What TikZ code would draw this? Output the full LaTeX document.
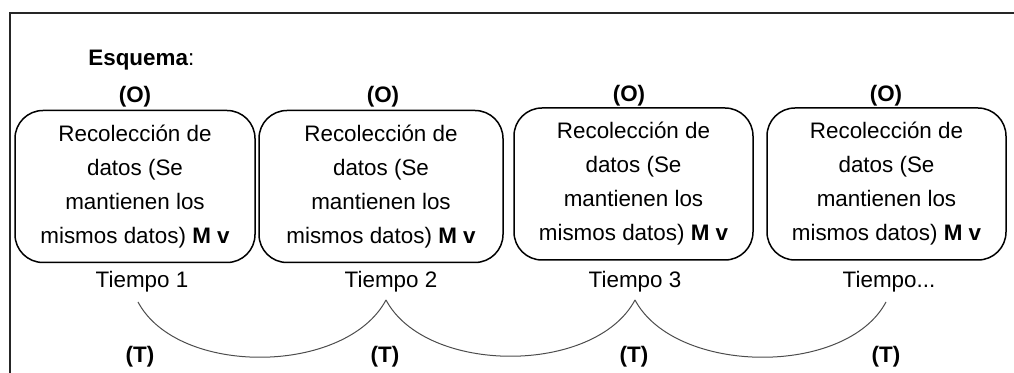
\documentclass[tikz,border=0pt]{standalone}
\usepackage{fontspec}
\setmainfont{Liberation Sans}
\usepackage{tikz}

\begin{document}
\begin{tikzpicture}[x=0.5pt,y=-0.5pt,
  txt/.style={font=\fontsize{11.2}{17}\selectfont, inner sep=0pt},
  box/.style={txt, draw, line width=0.75pt, rounded corners=14pt, align=center,
    minimum width=120pt, minimum height=76pt},
  arc/.style={draw=black!70, line width=0.5pt}]
\useasboundingbox (0,0) rectangle (1014,373);
\draw[line width=1pt, black!85] (9.5,373) -- (9.5,13) -- (1014,13);

\node[txt, anchor=west] (esq) at (88,60) {\textbf{Esquema}:};

\node[txt] (o1) at (135,97) {\textbf{(O)}};
\node[txt] (o2) at (383,97) {\textbf{(O)}};
\node[txt] (o3) at (629,96) {\textbf{(O)}};
\node[txt] (o4) at (886,96) {\textbf{(O)}};

\node[box, minimum width=120pt] (b1) at (135,186.5) {Recolección de\\datos (Se\\mantienen los\\mismos datos) \textbf{M v}};
\node[box, minimum width=122pt] (b2) at (381,186.5) {Recolección de\\datos (Se\\mantienen los\\mismos datos) \textbf{M v}};
\node[box, minimum width=119.5pt] (b3) at (633.5,184) {Recolección de\\datos (Se\\mantienen los\\mismos datos) \textbf{M v}};
\node[box, minimum width=119.5pt] (b4) at (886.5,184) {Recolección de\\datos (Se\\mantienen los\\mismos datos) \textbf{M v}};

\node[txt] (t1) at (142,282) {Tiempo 1};
\node[txt] (t2) at (391,282) {Tiempo 2};
\node[txt] (t3) at (635,282) {Tiempo 3};
\node[txt] (t4) at (889,282) {Tiempo...};

\coordinate (a1) at (138,302);
\coordinate (a2) at (386,300);
\coordinate (a3) at (635,300);
\coordinate (a4) at (886,302);

\draw[arc] (a1) .. controls +(40,75) and +(-40,75) .. (a2);
\draw[arc] (a2) .. controls +(40,75) and +(-40,75) .. (a3);
\draw[arc] (a3) .. controls +(40,75) and +(-40,75) .. (a4);

\node[txt] (T1) at (140,357) {\textbf{(T)}};
\node[txt] (T2) at (385,357) {\textbf{(T)}};
\node[txt] (T3) at (634,357) {\textbf{(T)}};
\node[txt] (T4) at (886,357) {\textbf{(T)}};
\end{tikzpicture}
\end{document}
